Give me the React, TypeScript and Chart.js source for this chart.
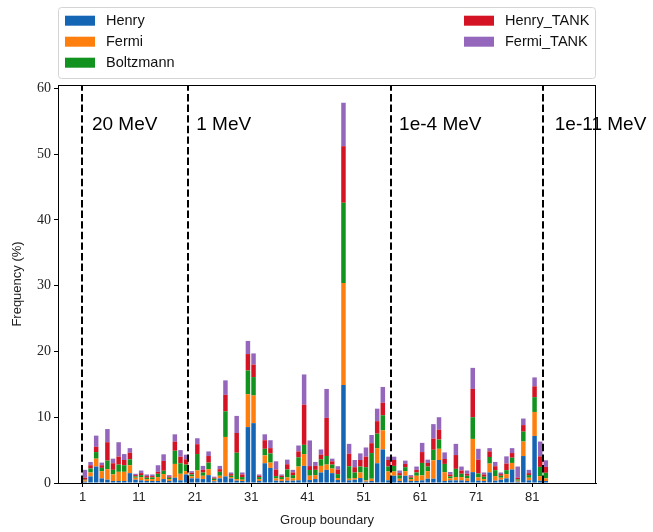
import { useEffect, useRef } from "react";
import { Chart, registerables } from "chart.js";

Chart.register(...registerables);

// ---- data ----
const groups = [
  1, 2, 3, 4, 5, 6, 7, 8, 9, 10, 11, 12, 13, 14, 15, 16, 17, 18, 19, 20,
  21, 22, 23, 24, 25, 26, 27, 28, 29, 30, 31, 32, 33, 34, 35, 36, 37, 38, 39, 40,
  41, 42, 43, 44, 45, 46, 47, 48, 49, 50, 51, 52, 53, 54, 55, 56, 57, 58, 59, 60,
  61, 62, 63, 64, 65, 66, 67, 68, 69, 70, 71, 72, 73, 74, 75, 76, 77, 78, 79, 80,
  81, 82, 83,
];

const henry = [
  0.2, 1.0, 2.5, 0.7, 0.5, 0.3, 0.3, 0.3, 1.5, 0.5,
  0.4, 0.3, 0.3, 0.3, 0.6, 0.3, 0.8, 0.4, 1.3, 0.7,
  0.7, 0.6, 1.2, 0.25, 0.7, 1.0, 0.7, 0.35, 0.3, 8.5,
  9.1, 0.3, 3.0, 2.3, 0.35, 0.3, 0.35, 0.35, 0.4, 2.6,
  0.45, 0.6, 1.6, 2.0, 1.5, 0.45, 14.9, 0.4, 0.5, 0.75,
  0.2, 0.3, 3.0, 5.1, 0.4, 1.1, 0.3, 1.1, 0.3, 0.3,
  0.4, 0.65, 0.65, 3.5, 0.3, 0.4, 0.4, 0.4, 0.3, 1.65,
  0.35, 0.3, 1.6, 0.35, 0.5, 0.7, 2.05, 0.2, 4.1, 0.4,
  7.15, 0.35, 0.3,
];

const fermi = [
  0.2, 0.6, 1.2, 1.1, 1.6, 1.0, 1.4, 1.4, 1.2, 0.3,
  0.5, 0.3, 0.3, 0.6, 0.76, 0.3, 2.1, 1.0, 0.5, 0.3,
  1.2, 0.5, 0.9, 0.2, 0.4, 6.0, 0.2, 0.25, 0.2, 5.0,
  4.2, 0.3, 1.2, 0.8, 0.35, 0.3, 0.5, 0.35, 2.1, 1.8,
  0.66, 0.6, 1.0, 0.8, 0.7, 0.3, 15.5, 0.25, 0.25, 0.85,
  0.2, 0.35, 2.3, 2.9, 1.35, 0.65, 0.35, 0.7, 0.3, 0.8,
  0.75, 1.15, 2.8, 1.7, 1.35, 0.3, 0.5, 0.5, 0.4, 5.05,
  0.5, 0.3, 1.35, 0.7, 0.3, 0.65, 1.0, 0.15, 2.2, 0.4,
  3.65, 0.7, 0.4,
];

const boltzmann = [
  0.1, 0.6, 1.0, 0.5, 1.3, 0.7, 1.1, 1.0, 0.9, 0.2,
  0.3, 0.2, 0.25, 0.5, 0.5, 0.2, 2.0, 1.6, 1.0, 0.3,
  2.5, 0.5, 1.0, 0.2, 0.6, 3.9, 0.2, 4.0, 0.4, 3.6,
  2.8, 0.3, 1.0, 1.4, 0.35, 0.3, 1.2, 0.5, 1.4, 1.4,
  0.86, 0.8, 1.0, 1.3, 0.6, 0.6, 12.2, 1.9, 0.85, 0.9,
  2.0, 3.9, 2.2, 2.3, 0.75, 0.85, 0.5, 0.6, 0.2, 0.5,
  1.9, 0.7, 1.6, 1.4, 1.25, 0.3, 1.25, 0.5, 0.4, 3.3,
  0.6, 0.35, 1.0, 0.9, 0.3, 0.6, 0.8, 0.2, 1.5, 0.4,
  2.25, 1.4, 0.85,
];

const henryTank = [
  0.3, 0.5, 0.8, 0.4, 2.8, 1.0, 1.2, 0.8, 1.0, 0.2,
  0.3, 0.25, 0.2, 0.3, 1.5, 0.2, 1.4, 1.0, 0.8, 0.25,
  1.5, 0.4, 1.0, 0.15, 0.4, 2.5, 0.25, 3.0, 0.4, 2.5,
  1.9, 0.2, 1.3, 0.8, 1.0, 0.2, 0.8, 0.4, 0.9, 6.1,
  0.6, 0.6, 0.7, 5.8, 0.5, 0.7, 8.6, 1.9, 0.8, 1.0,
  1.6, 1.5, 1.9, 1.9, 1.0, 0.9, 0.35, 0.5, 0.2, 0.4,
  1.65, 0.55, 1.7, 1.5, 0.75, 0.3, 2.1, 0.5, 0.3, 4.3,
  2.1, 0.35, 0.85, 0.6, 0.25, 1.0, 0.7, 0.25, 1.0, 0.3,
  1.65, 1.6, 0.9,
];

const fermiTank = [
  1.2, 0.5, 1.7, 0.4, 2.0, 0.7, 2.2, 0.9, 0.7, 0.2,
  0.4, 0.25, 0.25, 1.0, 1.0, 0.2, 1.1, 1.0, 0.7, 0.25,
  0.9, 0.6, 0.7, 0.16, 0.5, 2.2, 0.25, 2.6, 0.3, 2.0,
  1.7, 0.2, 0.9, 1.2, 1.25, 0.2, 0.7, 0.4, 0.9, 4.6,
  3.9, 0.6, 0.8, 4.4, 0.4, 0.5, 6.6, 1.5, 1.1, 1.0,
  1.4, 1.25, 1.9, 2.4, 0.5, 0.5, 0.4, 0.5, 0.2, 0.5,
  1.4, 0.5, 2.2, 1.9, 1.0, 0.37, 1.7, 0.6, 0.5, 3.2,
  1.65, 0.3, 0.5, 0.65, 0.25, 1.1, 0.75, 1.7, 1.0, 0.5,
  1.35, 2.25, 1.0,
];

const seriesNames = ["Henry", "Fermi", "Boltzmann", "Henry_TANK", "Fermi_TANK"];
const seriesColors = ["#1565b5", "#ff7f0e", "#12921e", "#d41424", "#9467bd"];

const xTickValues = [1, 11, 21, 31, 41, 51, 61, 71, 81];
const yTickValues = [0, 10, 20, 30, 40, 50, 60];

const boundaryLines = [0.93, 19.8, 55.85, 82.85];
const energyLabels = ["20 MeV", "1 MeV", "1e-4 MeV", "1e-11 MeV"];
const energyLabelX = [2.65, 21.2, 57.3, 85.0];
const energyLabelY = 54.4;

// matplotlib bar(align="edge", width=0.8): bar centre sits 0.4 right of its group
const BAR_WIDTH = 0.8;

const SANS = '"Liberation Sans", Arial, Helvetica, sans-serif';
const SERIF = '"Liberation Serif", "Times New Roman", serif';

const overlayPlugin = {
  id: "overlay",
  afterDatasetsDraw(chart: any) {
    const { ctx, chartArea: a, scales } = chart;
    const x = scales.x;
    const y = scales.y;
    ctx.save();

    // dashed boundaries
    ctx.strokeStyle = "#000";
    ctx.lineWidth = 2;
    ctx.setLineDash([7.4, 3.2]);
    boundaryLines.forEach((v) => {
      const px = Math.round(x.getPixelForValue(v));
      ctx.beginPath();
      ctx.moveTo(px, a.bottom);
      ctx.lineTo(px, a.top);
      ctx.stroke();
    });
    ctx.setLineDash([]);

    // energy labels
    ctx.fillStyle = "#000";
    ctx.font = `19px ${SANS}`;
    ctx.textAlign = "left";
    ctx.textBaseline = "middle";
    energyLabels.forEach((t, i) => {
      ctx.fillText(t, x.getPixelForValue(energyLabelX[i]), y.getPixelForValue(energyLabelY));
    });

    // frame
    ctx.lineWidth = 1;
    ctx.strokeStyle = "#000";
    ctx.strokeRect(Math.round(a.left) + 0.5, Math.round(a.top) + 0.5, Math.round(a.right - a.left) - 1, Math.round(a.bottom - a.top));

    // legend
    const lx = 58.5, ly = 7.5, lw = 537, lh = 71;
    ctx.beginPath();
    if ((ctx as any).roundRect) (ctx as any).roundRect(lx, ly, lw, lh, 3);
    else ctx.rect(lx, ly, lw, lh);
    ctx.fillStyle = "#fff";
    ctx.fill();
    ctx.strokeStyle = "#d4d4d4";
    ctx.lineWidth = 1;
    ctx.stroke();

    const entries = [
      { col: 0, row: 0, i: 0 },
      { col: 0, row: 1, i: 1 },
      { col: 0, row: 2, i: 2 },
      { col: 1, row: 0, i: 3 },
      { col: 1, row: 1, i: 4 },
    ];
    const colPatchX = [65, 464];
    const rowY = [20.7, 41.7, 62.7];
    ctx.font = `14.5px ${SANS}`;
    ctx.textBaseline = "middle";
    ctx.textAlign = "left";
    entries.forEach((e) => {
      const px = colPatchX[e.col];
      const cy = rowY[e.row];
      ctx.fillStyle = seriesColors[e.i];
      ctx.fillRect(px, cy - 5, 30, 10);
      ctx.fillStyle = "#111";
      ctx.fillText(seriesNames[e.i], px + 41, cy + 0.5);
    });

    ctx.restore();
  },
};

export default function App() {
  const ref = useRef<HTMLCanvasElement>(null);

  useEffect(() => {
    const series = [henry, fermi, boltzmann, henryTank, fermiTank];
    const datasets = series.map((vals, si) => ({
      label: seriesNames[si],
      data: groups.map((g, i) => ({ x: g + BAR_WIDTH / 2, y: vals[i] })),
      backgroundColor: seriesColors[si],
      borderWidth: 0,
      stack: "all",
      barPercentage: BAR_WIDTH,
      categoryPercentage: 1.0,
    }));

    const chart = new Chart(ref.current as HTMLCanvasElement, {
      type: "bar",
      data: { datasets } as any,
      options: {
        responsive: false,
        animation: false,
        devicePixelRatio: 1,
        events: [],
        layout: { padding: { top: 85, right: 57, bottom: 0, left: 0 } },
        plugins: {
          legend: { display: false },
          tooltip: { enabled: false },
          title: { display: false },
        },
        scales: {
          x: {
            type: "linear",
            offset: false,
            min: -3.39,
            max: 92.33,
            afterBuildTicks: (s: any) => {
              s.ticks = xTickValues.map((v) => ({ value: v }));
            },
            afterFit: (s: any) => {
              s.height = 49;
            },
            grid: {
              display: true,
              offset: false,
              drawOnChartArea: false,
              drawTicks: true,
              tickLength: 4,
              color: "#000",
              tickColor: "#000",
            },
            border: { display: true, color: "#000", width: 1 },
            ticks: {
              color: "#222",
              font: { family: SANS, size: 13 },
              padding: 3,
              maxRotation: 0,
              autoSkip: false,
              callback: (v: any) => String(v),
            },
            title: {
              display: true,
              text: "Group boundary",
              color: "#222",
              font: { family: SANS, size: 13 },
              padding: { top: 0, bottom: 4 },
            },
          },
          y: {
            type: "linear",
            stacked: true,
            min: 0,
            max: 60.5,
            afterBuildTicks: (s: any) => {
              s.ticks = yTickValues.map((v) => ({ value: v }));
            },
            afterFit: (s: any) => {
              s.width = 58;
            },
            grid: {
              display: true,
              drawOnChartArea: false,
              drawTicks: true,
              tickLength: 4,
              color: "#000",
              tickColor: "#000",
            },
            border: { display: true, color: "#000", width: 1 },
            ticks: {
              color: "#222",
              font: { family: SERIF, size: 14 },
              padding: 3,
              callback: (v: any) => String(v),
            },
            title: {
              display: true,
              text: "Frequency (%)",
              color: "#222",
              font: { family: SANS, size: 13 },
              padding: { top: 10, bottom: 0 },
            },
          },
        },
      } as any,
      plugins: [overlayPlugin],
    });
    return () => chart.destroy();
  }, []);

  return (
    <div style={{ position: "fixed", left: 0, top: 0, width: 653, height: 532, background: "#fff" }}>
      <canvas ref={ref} width={653} height={532} style={{ display: "block", width: 653, height: 532 }} />
    </div>
  );
}
